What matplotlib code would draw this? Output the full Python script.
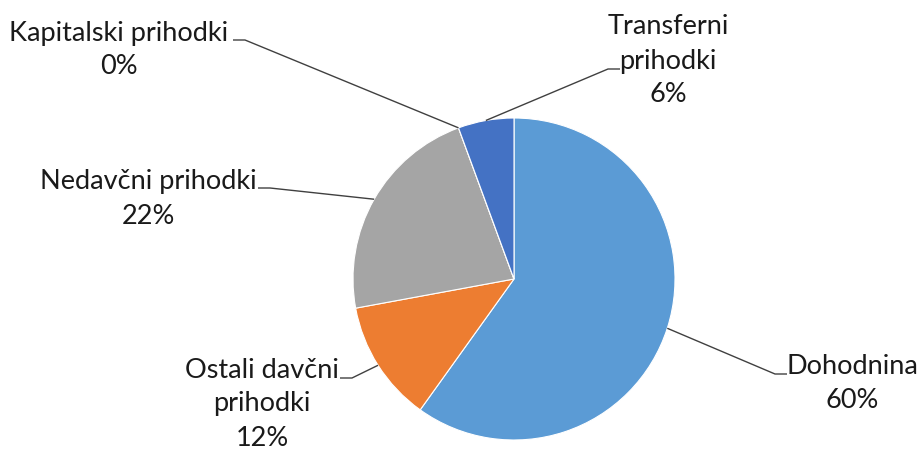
import numpy as np
import matplotlib.pyplot as plt

# data
labels = ["Dohodnina", "Ostali davčni\nprihodki", "Nedavčni prihodki",
          "Kapitalski prihodki", "Transferni\nprihodki"]
shares = [59.9, 12.2, 22.3, 0.0, 5.6]
pct_text = ["60%", "12%", "22%", "0%", "6%"]
colors = ["#5B9BD5", "#ED7D31", "#A5A5A5", "#FFC000", "#4472C4"]

W, H = 922, 450
cx, cy, r = 514, 279, 161

# label layout in pixel coords (x, y of text block centre, elbow x, elbow y, side)
label_pos = [
    (852, 384, 775, 374, "right"),
    (262, 404, 352, 378, "left"),
    (148, 199, 270, 188, "left"),
    (119, 50, 245, 40, "left"),
    (668, 61, 608, 69, "right"),
]

fig = plt.figure(figsize=(W / 100, H / 100), dpi=100)
ax = fig.add_axes([0, 0, 1, 1])

wedges, _ = ax.pie(shares, colors=colors, startangle=90, counterclock=False,
                   center=(cx, H - cy), radius=r,
                   wedgeprops=dict(edgecolor="white", linewidth=0.8))
ax.set_xlim(0, W)
ax.set_ylim(0, H)
ax.set_aspect("auto")
ax.axis("off")

for w, lab, pct, (tx, ty, ex, ey, side) in zip(wedges, labels, pct_text, label_pos):
    mid = np.deg2rad((w.theta1 + w.theta2) / 2)
    ax_x = cx + r * np.cos(mid)
    ax_y = (H - cy) + r * np.sin(mid)
    hx = ex - 12 if side == "left" else ex + 12
    ax.plot([ax_x, ex, hx], [ax_y, H - ey, H - ey], color="#404040", lw=1.0,
            solid_capstyle="butt", zorder=5)
    ax.text(tx, H - ty, lab + "\n" + pct, ha="center", va="center",
            fontsize=19.5, family="Lato", color="#1a1a1a", linespacing=1.45)

fig.savefig("out.png", dpi=100)
